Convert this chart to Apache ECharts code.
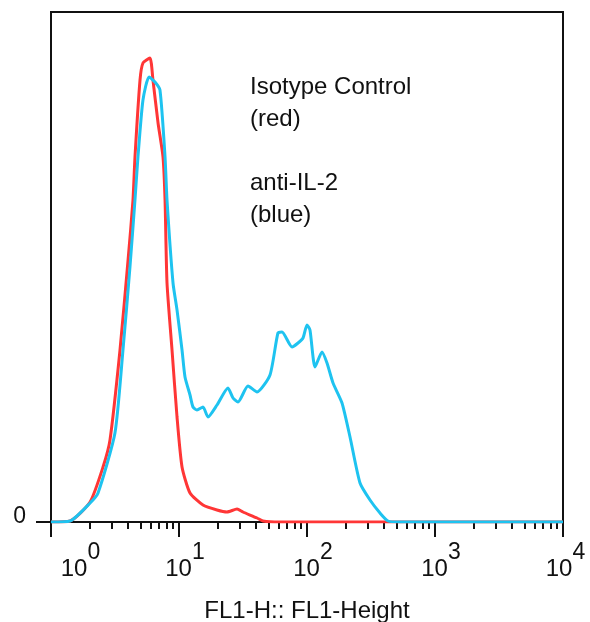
<!DOCTYPE html>
<html><head><meta charset="utf-8">
<script src="https://cdn.jsdelivr.net/npm/echarts@6/dist/echarts.min.js"></script>
<style>html,body{margin:0;padding:0;background:#fff}#c{width:590px;height:622px}</style>
</head><body><div id="c"></div>
<script>
// Isotype control (red)
const redX = [1, 1.41, 2.02, 2.55, 2.89, 3.46, 4.00, 4.37, 4.53, 4.96, 5.23, 5.93, 6.26, 6.86, 7.50, 7.78, 8.06, 8.82, 9.65, 10.56, 12.19, 15.4, 19.8, 23.7, 28.4, 31.6, 40.7, 45.3, 61.5, 10000];
const redY = [0, 1, 20, 55, 82, 172, 262, 322, 365, 442, 459, 464, 442, 399, 365, 322, 239, 172, 105, 55, 29, 17, 12, 10, 13, 10, 4, 1, 0, 0];
// anti-IL-2 (blue)
const blueX = [1, 1.41, 2.02, 2.33, 3.16, 3.65, 4.14, 4.53, 4.78, 5.23, 5.83, 6.49, 7.10, 7.78, 8.06, 8.98, 9.65, 10.56, 11.14, 12.19, 12.86, 13.82, 15.4, 16.85, 19.81, 24.14, 26.42, 28.91, 34.6, 40.7, 51.4, 59.3, 63.8, 76.4, 85.1, 93.1, 100, 105.5, 115.5, 131, 143.3, 159.7, 187.7, 216.8, 259.5, 310.6, 371.8, 429.5, 533, 10000];
const blueY = [0, 1, 19, 29, 89, 172, 255, 322, 365, 422, 445, 440, 432, 365, 322, 239, 212, 172, 145, 127, 115, 112, 115, 105, 117, 134, 124, 120, 136, 130, 147, 189, 190, 175, 179, 184, 197, 192, 155, 170, 159, 139, 119, 85, 39, 22, 9, 1, 0, 0];
// axis ticks
const majorTicks = [1, 10, 100, 1000, 10000];
const minorTicks = [2,3,4,5,6,7,8,9, 20,30,40,50,60,70,80,90, 200,300,400,500,600,700,800,900, 2000,3000,4000,5000,6000,7000,8000,9000];
const yTicks = [0];
const xTitle = 'FL1-H:: FL1-Height';
const annotationLines = ['Isotype Control', '(red)', '', 'anti-IL-2', '(blue)'];

const FONT = '"Liberation Sans", Arial, sans-serif';
const chart = echarts.init(document.getElementById('c'), null, {renderer: 'canvas'});
const pairs = (xs, ys) => xs.map((x, i) => [x, ys[i]]);

chart.setOption({
  animation: false,
  backgroundColor: '#fff',
  grid: {left: 51, right: 27, top: 12, bottom: 100, outerBoundsMode: 'none', containLabel: false,
         show: true, borderColor: '#111', borderWidth: 2, backgroundColor: 'transparent'},
  xAxis: [
    {
      type: 'log', logBase: 10, min: 1, max: 10000,
      name: xTitle, nameLocation: 'middle', nameGap: 77,
      nameTextStyle: {fontFamily: FONT, fontSize: 24, color: '#111'},
      axisLine: {show: true, lineStyle: {color: '#111', width: 2}},
      axisTick: {show: true, customValues: majorTicks, length: 15, lineStyle: {color: '#111', width: 2}},
      splitLine: {show: false},
      axisLabel: {
        show: true, customValues: majorTicks, margin: 19, color: '#111',
        formatter: v => {
          const e = Math.round(Math.log10(v));
          const sp = e === 0 ? 'sp0' : (e === 4 ? 'sp4' : 'sp');
          return '{' + sp + '| }{b|10}{s|' + e + '}';
        },
        rich: {
          sp: {width: 12, fontSize: 10},
          sp0: {width: 59, fontSize: 10},
          sp4: {width: 5, fontSize: 10},
          b: {fontFamily: FONT, fontSize: 24, color: '#111', verticalAlign: 'bottom'},
          s: {fontFamily: FONT, fontSize: 23, color: '#111', verticalAlign: 'top', padding: [0, 0, 17, 0]}
        }
      }
    },
    {
      type: 'log', logBase: 10, min: 1, max: 10000, position: 'bottom',
      axisLine: {show: false},
      axisTick: {show: true, customValues: minorTicks, length: 7, lineStyle: {color: '#111', width: 2}},
      axisLabel: {show: false},
      splitLine: {show: false}
    }
  ],
  yAxis: {
    type: 'value', min: 0, max: 510,
    axisLine: {show: true, lineStyle: {color: '#111', width: 2}},
    axisTick: {show: true, customValues: yTicks, length: 15, lineStyle: {color: '#111', width: 2}},
    axisLabel: {show: true, customValues: yTicks, margin: 25, fontFamily: FONT, fontSize: 23, color: '#111',
                verticalAlign: 'bottom', lineHeight: 10},
    splitLine: {show: false}
  },
  series: [
    {name: 'Isotype Control', type: 'line', xAxisIndex: 0, data: pairs(redX, redY), showSymbol: false, smooth: 0.2,
     lineStyle: {color: '#ff3636', width: 3}, z: 3},
    {name: 'anti-IL-2', type: 'line', xAxisIndex: 0, data: pairs(blueX, blueY), showSymbol: false, smooth: 0.2,
     lineStyle: {color: '#1ec3f0', width: 3}, z: 4}
  ],
  graphic: [{
    type: 'text', left: 250, top: 71, z: 10,
    style: {text: annotationLines.join('\n'), font: '24px ' + FONT, lineHeight: 32, fill: '#111'}
  }]
});
</script>
</body></html>
